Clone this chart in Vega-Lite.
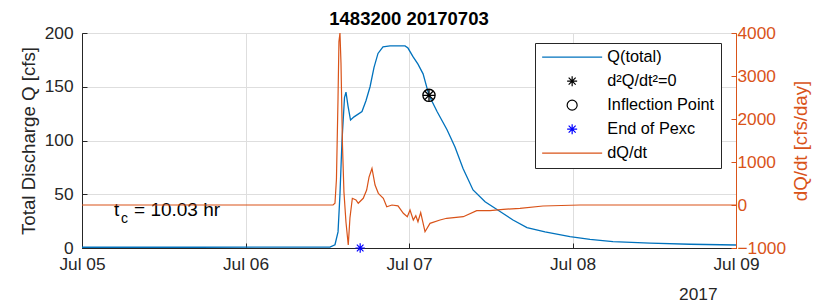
{
  "$schema": "https://vega.github.io/schema/vega-lite/v6.json",
  "width": 654,
  "height": 215,
  "autosize": {"type": "none"},
  "padding": {"left": 82, "top": 33, "right": 88, "bottom": 55},
  "background": "white",
  "config": {
    "font": "Liberation Sans",
    "view": {"stroke": "#262626", "strokeWidth": 1},
    "axis": {
      "labelFont": "Liberation Sans", "labelFontSize": 17.3, "labelColor": "#262626",
      "titleFont": "Liberation Sans", "titleFontSize": 18.7, "titleFontWeight": "normal", "titleColor": "#262626",
      "domainColor": "#262626", "tickColor": "#262626", "gridColor": "#dedede", "gridWidth": 1,
      "tickSize": -5, "domainWidth": 1
    },
    "legend": {
      "fillColor": "white", "strokeColor": "#262626", "strokeWidth": 1, "padding": 6,
      "labelFont": "Liberation Sans", "labelFontSize": 16.3, "labelColor": "#000000",
      "symbolSize": 100, "symbolOffset": 23, "labelOffset": 27, "rowPadding": 7, "symbolStrokeWidth": 1.2
    }
  },
  "datasets": {
    "q": [
      {"t": "2017-07-05T00:00:00Z", "q": 0.7},
      {"t": "2017-07-05T17:00:00Z", "q": 0.7},
      {"t": "2017-07-06T12:24:00Z", "q": 0.8},
      {"t": "2017-07-06T13:08:00Z", "q": 3},
      {"t": "2017-07-06T13:35:00Z", "q": 15},
      {"t": "2017-07-06T13:52:00Z", "q": 50},
      {"t": "2017-07-06T14:10:00Z", "q": 100},
      {"t": "2017-07-06T14:32:00Z", "q": 140},
      {"t": "2017-07-06T14:45:00Z", "q": 145},
      {"t": "2017-07-06T15:03:00Z", "q": 132},
      {"t": "2017-07-06T15:25:00Z", "q": 119},
      {"t": "2017-07-06T15:56:00Z", "q": 122},
      {"t": "2017-07-06T17:06:00Z", "q": 127},
      {"t": "2017-07-06T17:41:00Z", "q": 137},
      {"t": "2017-07-06T18:17:00Z", "q": 150},
      {"t": "2017-07-06T18:52:00Z", "q": 168},
      {"t": "2017-07-06T19:27:00Z", "q": 181},
      {"t": "2017-07-06T20:11:00Z", "q": 187},
      {"t": "2017-07-06T21:13:00Z", "q": 188},
      {"t": "2017-07-06T23:25:00Z", "q": 188},
      {"t": "2017-07-06T23:51:00Z", "q": 186},
      {"t": "2017-07-07T00:35:00Z", "q": 178},
      {"t": "2017-07-07T01:19:00Z", "q": 171},
      {"t": "2017-07-07T02:04:00Z", "q": 162},
      {"t": "2017-07-07T02:56:00Z", "q": 142},
      {"t": "2017-07-07T04:07:00Z", "q": 127},
      {"t": "2017-07-07T05:35:00Z", "q": 110},
      {"t": "2017-07-07T06:45:00Z", "q": 94},
      {"t": "2017-07-07T07:56:00Z", "q": 74},
      {"t": "2017-07-07T09:24:00Z", "q": 54},
      {"t": "2017-07-07T11:10:00Z", "q": 43},
      {"t": "2017-07-07T13:22:00Z", "q": 34},
      {"t": "2017-07-07T15:16:00Z", "q": 26},
      {"t": "2017-07-07T17:19:00Z", "q": 19},
      {"t": "2017-07-07T19:58:00Z", "q": 15},
      {"t": "2017-07-07T23:38:00Z", "q": 10.5},
      {"t": "2017-07-08T02:34:00Z", "q": 8},
      {"t": "2017-07-08T05:56:00Z", "q": 6},
      {"t": "2017-07-08T11:23:00Z", "q": 4.5},
      {"t": "2017-07-08T17:15:00Z", "q": 3.5},
      {"t": "2017-07-09T00:00:00Z", "q": 2.8}
    ],
    "dq": [
      {"t": "2017-07-05T00:00:00Z", "v": 0},
      {"t": "2017-07-06T12:51:00Z", "v": 0},
      {"t": "2017-07-06T13:08:00Z", "v": 40},
      {"t": "2017-07-06T13:21:00Z", "v": 600},
      {"t": "2017-07-06T13:35:00Z", "v": 2500},
      {"t": "2017-07-06T13:43:00Z", "v": 3800},
      {"t": "2017-07-06T13:52:00Z", "v": 4000},
      {"t": "2017-07-06T14:01:00Z", "v": 3300},
      {"t": "2017-07-06T14:14:00Z", "v": 1400},
      {"t": "2017-07-06T14:27:00Z", "v": 300},
      {"t": "2017-07-06T14:45:00Z", "v": -400},
      {"t": "2017-07-06T15:05:00Z", "v": -930},
      {"t": "2017-07-06T15:20:00Z", "v": -300},
      {"t": "2017-07-06T15:41:00Z", "v": 156},
      {"t": "2017-07-06T16:13:00Z", "v": 116},
      {"t": "2017-07-06T16:33:00Z", "v": 40},
      {"t": "2017-07-06T17:17:00Z", "v": 156},
      {"t": "2017-07-06T17:47:00Z", "v": 349},
      {"t": "2017-07-06T18:08:00Z", "v": 650},
      {"t": "2017-07-06T18:34:00Z", "v": 850},
      {"t": "2017-07-06T19:01:00Z", "v": 465},
      {"t": "2017-07-06T19:30:00Z", "v": 272},
      {"t": "2017-07-06T20:14:00Z", "v": 156},
      {"t": "2017-07-06T20:44:00Z", "v": -40},
      {"t": "2017-07-06T21:30:00Z", "v": 0},
      {"t": "2017-07-06T22:23:00Z", "v": -20},
      {"t": "2017-07-06T23:10:00Z", "v": -193},
      {"t": "2017-07-06T23:45:00Z", "v": -272},
      {"t": "2017-07-07T00:09:00Z", "v": -116},
      {"t": "2017-07-07T00:38:00Z", "v": -349},
      {"t": "2017-07-07T01:00:00Z", "v": -250},
      {"t": "2017-07-07T01:19:00Z", "v": -390},
      {"t": "2017-07-07T01:43:00Z", "v": -179},
      {"t": "2017-07-07T02:21:00Z", "v": -621},
      {"t": "2017-07-07T03:05:00Z", "v": -426},
      {"t": "2017-07-07T04:33:00Z", "v": -349},
      {"t": "2017-07-07T05:32:00Z", "v": -309},
      {"t": "2017-07-07T07:58:00Z", "v": -272},
      {"t": "2017-07-07T09:56:00Z", "v": -133},
      {"t": "2017-07-07T11:53:00Z", "v": -133},
      {"t": "2017-07-07T13:51:00Z", "v": -100},
      {"t": "2017-07-07T16:17:00Z", "v": -79},
      {"t": "2017-07-07T19:40:00Z", "v": -23},
      {"t": "2017-07-08T01:06:00Z", "v": 0},
      {"t": "2017-07-09T00:00:00Z", "v": 0}
    ],
    "pts": [
      {"t": "2017-07-07T02:56:00Z", "q": 142, "s": "Inflection Point"},
      {"t": "2017-07-07T02:56:00Z", "q": 142, "s": "d²Q/dt²=0"},
      {"t": "2017-07-06T16:50:00Z", "q": 0, "s": "End of Pexc"}
    ],
    "ann": [
      {"t": "2017-07-05T04:42:00Z", "q": 29.8, "part": "main", "txt": "t"},
      {"t": "2017-07-05T04:42:00Z", "q": 29.8, "part": "sub", "txt": "c"},
      {"t": "2017-07-05T04:42:00Z", "q": 29.8, "part": "rest", "txt": "= 10.03 hr"},
      {"t": "2017-07-07T00:00:00Z", "q": 200, "part": "title", "txt": "1483200 20170703"}
    ]
  },
  "encoding": {
    "x": {
      "field": "t", "type": "temporal",
      "scale": {"type": "utc", "domain": [{"year": 2017, "month": 7, "date": 5, "utc": true}, {"year": 2017, "month": 7, "date": 9, "utc": true}]},
      "axis": {
        "values": [
          {"year": 2017, "month": 7, "date": 5, "utc": true},
          {"year": 2017, "month": 7, "date": 6, "utc": true},
          {"year": 2017, "month": 7, "date": 7, "utc": true},
          {"year": 2017, "month": 7, "date": 8, "utc": true},
          {"year": 2017, "month": 7, "date": 9, "utc": true}
        ],
        "format": "%b %d", "grid": true, "labelPadding": 12, "labelFlush": false,
        "title": "2017", "titleFontSize": 17.3, "titleAnchor": "end", "titleAlign": "right",
        "titleX": 635, "titleY": 51, "titleBaseline": "alphabetic"
      }
    }
  },
  "layer": [
    {
      "encoding": {
        "y": {
          "field": "q", "type": "quantitative",
          "scale": {"domain": [0, 200], "nice": false, "zero": false},
          "axis": {"values": [0, 50, 100, 150, 200], "grid": true, "title": "Total Discharge Q [cfs]", "labelPadding": 14, "titlePadding": 6}
        }
      },
      "layer": [
        {
          "data": {"name": "q"},
          "mark": {"type": "line", "strokeWidth": 1.3, "clip": true},
          "encoding": {
            "color": {
              "datum": "Q(total)", "type": "nominal",
              "scale": {"domain": ["Q(total)", "d²Q/dt²=0", "Inflection Point", "End of Pexc", "dQ/dt"], "range": ["#0072BD", "#000000", "#000000", "#0000FF", "#D95319"]},
              "legend": {"title": null, "orient": "none", "legendX": 453, "legendY": 10, "columns": 1, "labelExpr": "datum.label + '\u00a0\u00a0\u00a0'"}
            }
          }
        },
        {
          "data": {"name": "pts"},
          "transform": [{"filter": "datum.s != 'End of Pexc'"}],
          "mark": {"type": "point", "filled": false, "size": 150, "strokeWidth": 1.3, "opacity": 1, "clip": false},
          "encoding": {
            "color": {
              "field": "s", "type": "nominal",
              "scale": {"domain": ["Q(total)", "d²Q/dt²=0", "Inflection Point", "End of Pexc", "dQ/dt"], "range": ["#0072BD", "#000000", "#000000", "#0000FF", "#D95319"]},
              "legend": {"title": null, "orient": "none", "legendX": 453, "legendY": 10, "columns": 1, "labelExpr": "datum.label + '\u00a0\u00a0\u00a0'"}
            },
            "shape": {
              "field": "s", "type": "nominal",
              "scale": {"domain": ["Q(total)", "d²Q/dt²=0", "Inflection Point", "End of Pexc", "dQ/dt"], "range": ["M-6,0L6,0", "M-1,0L1,0M0,-1L0,1M-0.7,-0.7L0.7,0.7M-0.7,0.7L0.7,-0.7", "circle", "M-1,0L1,0M0,-1L0,1M-0.7,-0.7L0.7,0.7M-0.7,0.7L0.7,-0.7", "M-6,0L6,0"]},
              "legend": {"title": null, "orient": "none", "legendX": 453, "legendY": 10, "columns": 1, "labelExpr": "datum.label + '\u00a0\u00a0\u00a0'"}
            }
          }
        },
        {
          "data": {"name": "pts"},
          "transform": [{"filter": "datum.s == 'End of Pexc'"}],
          "mark": {"type": "point", "filled": false, "size": 90, "strokeWidth": 1.2, "opacity": 1, "clip": false},
          "encoding": {
            "color": {"field": "s", "type": "nominal", "legend": {"title": null, "orient": "none", "legendX": 453, "legendY": 10, "columns": 1, "labelExpr": "datum.label + '\u00a0\u00a0\u00a0'"}},
            "shape": {"field": "s", "type": "nominal", "legend": {"title": null, "orient": "none", "legendX": 453, "legendY": 10, "columns": 1, "labelExpr": "datum.label + '\u00a0\u00a0\u00a0'"}}
          }
        },
        {
          "data": {"name": "ann"},
          "transform": [{"filter": "datum.part == 'main'"}],
          "mark": {"type": "text", "align": "left", "baseline": "alphabetic", "fontSize": 19, "color": "#000000", "font": "Liberation Sans"},
          "encoding": {"text": {"field": "txt"}}
        },
        {
          "data": {"name": "ann"},
          "transform": [{"filter": "datum.part == 'sub'"}],
          "mark": {"type": "text", "align": "left", "baseline": "alphabetic", "fontSize": 14, "dx": 7, "dy": 7, "color": "#000000", "font": "Liberation Sans"},
          "encoding": {"text": {"field": "txt"}}
        },
        {
          "data": {"name": "ann"},
          "transform": [{"filter": "datum.part == 'rest'"}],
          "mark": {"type": "text", "align": "left", "baseline": "alphabetic", "fontSize": 19, "dx": 20, "color": "#000000", "font": "Liberation Sans"},
          "encoding": {"text": {"field": "txt"}}
        },
        {
          "data": {"name": "ann"},
          "transform": [{"filter": "datum.part == 'title'"}],
          "mark": {"type": "text", "align": "center", "baseline": "alphabetic", "fontSize": 18.5, "fontWeight": "bold", "dy": -8, "color": "#000000", "font": "Liberation Sans", "clip": false},
          "encoding": {"text": {"field": "txt"}}
        }
      ]
    },
    {
      "data": {"name": "dq"},
      "mark": {"type": "line", "strokeWidth": 1.2, "clip": true},
      "encoding": {
        "y": {
          "field": "v", "type": "quantitative",
          "scale": {"domain": [-1000, 4000], "nice": false, "zero": false},
          "axis": {"orient": "right", "values": [-1000, 0, 1000, 2000, 3000, 4000], "format": "d", "grid": false, "title": "dQ/dt [cfs/day]", "labelColor": "#D95319", "titleColor": "#D95319", "domainColor": "#D95319", "tickColor": "#D95319", "labelPadding": 6, "titleAngle": -90, "titleBaseline": "top", "titlePadding": 6}
        },
        "color": {
          "datum": "dQ/dt", "type": "nominal",
          "legend": {"title": null, "orient": "none", "legendX": 453, "legendY": 10, "columns": 1, "labelExpr": "datum.label + '\u00a0\u00a0\u00a0'"}
        }
      }
    }
  ],
  "resolve": {"scale": {"y": "independent"}, "axis": {"y": "independent"}}
}
